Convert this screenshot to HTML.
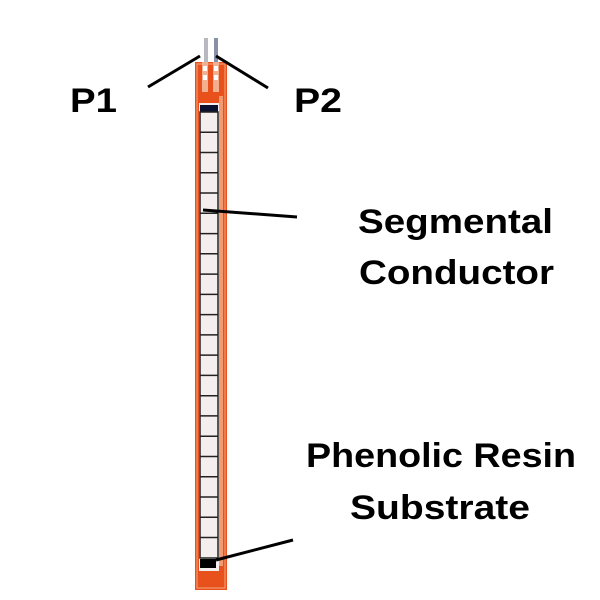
<!DOCTYPE html>
<html><head><meta charset="utf-8"><style>html,body{margin:0;padding:0;background:#fff}svg{display:block}</style></head>
<body>
<svg width="600" height="600" xmlns="http://www.w3.org/2000/svg" font-family="Liberation Sans, sans-serif" font-weight="bold">
<rect x="0" y="0" width="600" height="600" fill="#fff"/>
<!-- prongs -->
<rect x="204" y="38" width="4" height="28" fill="#b8b8c0"/>
<rect x="214" y="38" width="4" height="28" fill="#8890a8"/>
<!-- strip -->
<rect x="195" y="62" width="32" height="528" fill="#e8501c"/>
<rect x="197" y="64" width="28" height="524" fill="none" stroke="#f08a60" stroke-width="1.5"/>
<rect x="202" y="62" width="6" height="30" fill="#f2b090"/>
<rect x="213" y="62" width="6" height="30" fill="#f2b090"/>
<rect x="203" y="66" width="4" height="5" fill="#fff"/><rect x="203" y="75" width="4" height="5" fill="#fff"/>
<rect x="214" y="66" width="4" height="5" fill="#fff"/><rect x="214" y="75" width="4" height="5" fill="#fff"/>
<rect x="219" y="96" width="4" height="470" fill="#f39a70"/>
<rect x="199" y="103" width="20" height="468" fill="#f4efee"/>
<rect x="200" y="105" width="18" height="7" fill="#0a1030"/>
<g stroke="#222" stroke-width="1.5" fill="none">
<rect x="200" y="112" width="18" height="446"/>
<path d="M200 132.3H218M200 152.5H218M200 172.8H218M200 193H218M200 213.3H218M200 233.6H218M200 253.8H218M200 274.1H218M200 294.4H218M200 314.6H218M200 334.9H218M200 355.1H218M200 375.4H218M200 395.7H218M200 415.9H218M200 436.2H218M200 456.5H218M200 476.7H218M200 497H218M200 517.2H218M200 537.5H218"/>
</g>
<rect x="200" y="559" width="16" height="9" fill="#000"/>
<!-- leader lines -->
<g stroke="#000" stroke-width="3">
<line x1="148" y1="87" x2="200" y2="56"/>
<line x1="216" y1="56" x2="268" y2="88"/>
<line x1="203" y1="210" x2="297" y2="217"/>
<line x1="216" y1="560" x2="293" y2="540"/>
</g>
<g font-size="34" fill="#000">
<text x="70" y="112" textLength="47" lengthAdjust="spacingAndGlyphs">P1</text>
<text x="294" y="112" textLength="48" lengthAdjust="spacingAndGlyphs">P2</text>
<text x="358" y="233" textLength="195" lengthAdjust="spacingAndGlyphs">Segmental</text>
<text x="359" y="284" textLength="195" lengthAdjust="spacingAndGlyphs">Conductor</text>
<text x="306" y="467" textLength="270" lengthAdjust="spacingAndGlyphs">Phenolic Resin</text>
<text x="350" y="519" textLength="180" lengthAdjust="spacingAndGlyphs">Substrate</text>
</g>
</svg>
</body></html>
